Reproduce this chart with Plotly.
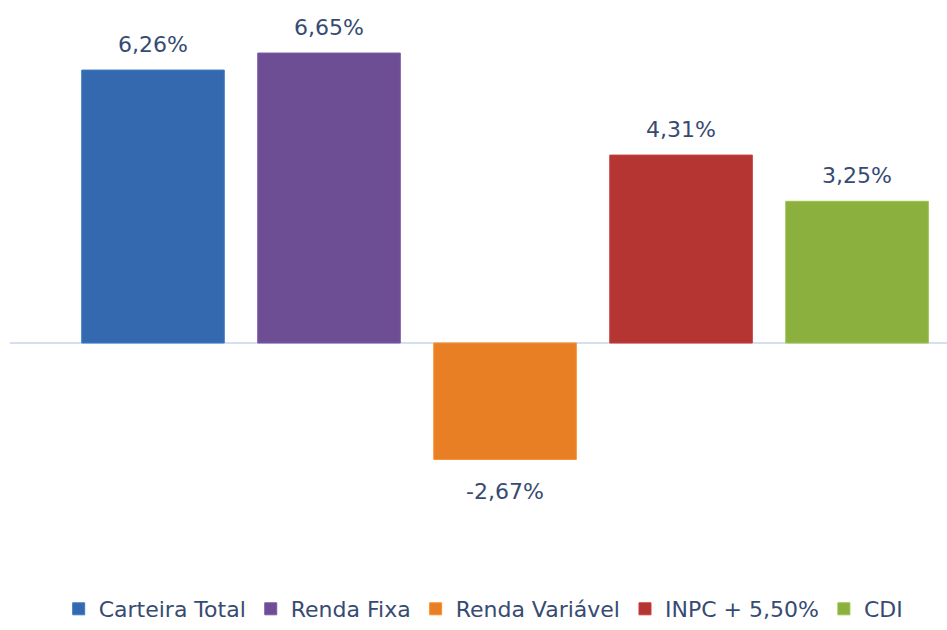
import plotly.graph_objects as go

categories = ["Carteira Total", "Renda Fixa", "Renda Variável", "INPC + 5,50%", "CDI"]
values = [6.26, 6.65, -2.67, 4.31, 3.25]
labels = ["6,26%", "6,65%", "-2,67%", "4,31%", "3,25%"]
colors = ["#3469B0", "#6D4E94", "#E87F25", "#B53532", "#8CB03E"]
line_colors = ["#3A7BC8", "#7C58A6", "#FA8F2A", "#C93D3A", "#9BC346"]

FONT = "DejaVu Sans"
TXT = "#374B72"

fig = go.Figure()
for cat, v, c, lc in zip(categories, values, colors, line_colors):
    fig.add_trace(go.Bar(
        x=[cat], y=[v], name=cat,
        marker=dict(color=c, line=dict(color=lc, width=1)),
        width=0.81,
    ))

for cat, v, lab in zip(categories, values, labels):
    fig.add_annotation(
        x=cat, y=v, text=lab, showarrow=False,
        yanchor="bottom" if v >= 0 else "top",
        yshift=11 if v >= 0 else -18,
        font=dict(family=FONT, size=22, color=TXT),
    )

fig.update_layout(
    width=947, height=630,
    margin=dict(l=10, r=0, t=0, b=70),
    paper_bgcolor="white", plot_bgcolor="white",
    barmode="overlay",
    showlegend=True,
    legend=dict(orientation="h", x=0.505, xanchor="center",
                yref="container", y=-0.016, yanchor="bottom",
                font=dict(family=FONT, size=22, color=TXT), itemwidth=30,
                traceorder="normal"),
    xaxis=dict(type="category", categoryorder="array", categoryarray=categories,
               range=[-0.8125, 4.511], showticklabels=False, showgrid=False,
               zeroline=False, showline=False, ticks=""),
    yaxis=dict(range=[-4.977, 7.867], showticklabels=False, showgrid=False,
               zeroline=True, zerolinecolor="#D3E0F0", zerolinewidth=2,
               showline=False, ticks=""),
)

fig.write_html("out.html", config={"displayModeBar": False},
               post_script="document.body.style.margin='0';")
